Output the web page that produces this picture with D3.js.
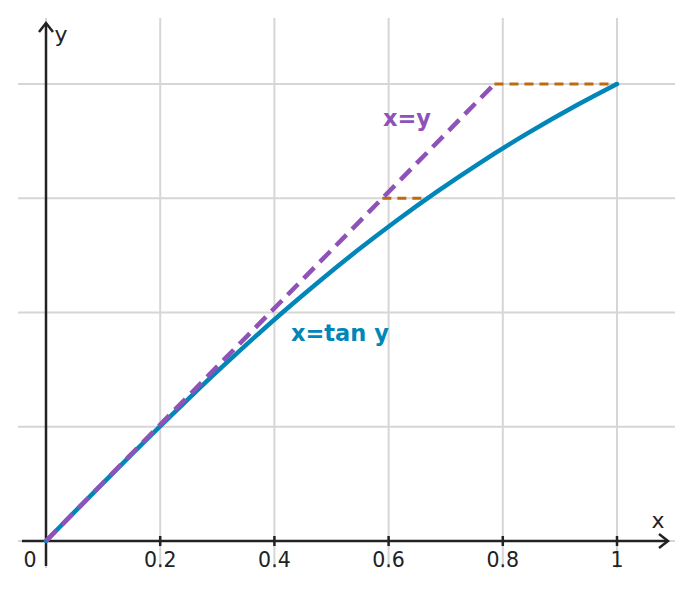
<!DOCTYPE html>
<html><head><meta charset="utf-8">
<script src="https://cdn.jsdelivr.net/npm/d3@7"></script>
<style>body{margin:0;background:#fff}svg{display:block}</style>
</head><body>
<script>
const xTicks = [0.2, 0.4, 0.6, 0.8, 1];
const xTickLabels = ["0.2", "0.4", "0.6", "0.8", "1"];
const yGrid = [0.19635, 0.392699, 0.589049, 0.785398];
// curve x = tan y (sampled values)
const curveY = [0, 0.05, 0.1, 0.15, 0.2, 0.25, 0.3, 0.35, 0.4, 0.45, 0.5, 0.55, 0.6, 0.65, 0.7, 0.75, 0.785398];
const curveX = [0, 0.05004, 0.10033, 0.15114, 0.20271, 0.25534, 0.30934, 0.36503, 0.42279, 0.48306, 0.54630, 0.61311, 0.68414, 0.76020, 0.84229, 0.93160, 1.0];
const diagX = [0, 0.785398];
const diagY = [0, 0.785398];
// horizontal connectors: [y, x1, x2]
const connY = [0.785398, 0.589049];
const connX1 = [0.785398, 0.589049];
const connX2 = [1.0, 0.66818];

const W = 692, H = 589;
const x = d3.scaleLinear().domain([0, 1]).range([46, 617]);
const y = d3.scaleLinear().domain([0, 0.785398]).range([541, 84]);

const svg = d3.select("body").append("svg").attr("width", W).attr("height", H);
const font = "DejaVu Sans, sans-serif";
const grid = "#d6d6d6";

// grid
svg.append("g").selectAll("line").data(xTicks).join("line")
  .attr("x1", d => x(d)).attr("x2", d => x(d)).attr("y1", 18).attr("y2", 568)
  .attr("stroke", grid).attr("stroke-width", 2);
svg.append("g").selectAll("line").data(yGrid).join("line")
  .attr("x1", 18).attr("x2", 675).attr("y1", d => y(d)).attr("y2", d => y(d))
  .attr("stroke", grid).attr("stroke-width", 2);
svg.append("line").attr("x1", x(0)).attr("x2", x(0)).attr("y1", 18).attr("y2", 568)
  .attr("stroke", grid).attr("stroke-width", 2);
svg.append("line").attr("x1", 18).attr("x2", 675).attr("y1", y(0)).attr("y2", y(0))
  .attr("stroke", grid).attr("stroke-width", 2);

// axes
const ax = "#222";
svg.append("line").attr("x1", 22).attr("x2", 667).attr("y1", y(0)).attr("y2", y(0))
  .attr("stroke", ax).attr("stroke-width", 2.5);
svg.append("path").attr("d", `M${659},${y(0)-7} L${668},${y(0)} L${659},${y(0)+7}`)
  .attr("fill", "none").attr("stroke", ax).attr("stroke-width", 2.5).attr("stroke-linejoin","miter");
svg.append("line").attr("x1", x(0)).attr("x2", x(0)).attr("y1", 566).attr("y2", 23)
  .attr("stroke", ax).attr("stroke-width", 2.5);
svg.append("path").attr("d", `M${x(0)-7},${32} L${x(0)},${23} L${x(0)+7},${32}`)
  .attr("fill", "none").attr("stroke", ax).attr("stroke-width", 2.5);

// ticks
svg.append("g").selectAll("line").data(xTicks).join("line")
  .attr("x1", d => x(d)).attr("x2", d => x(d)).attr("y1", y(0)-5).attr("y2", y(0)+5)
  .attr("stroke", ax).attr("stroke-width", 2.5);
svg.append("g").selectAll("text").data(xTicks).join("text")
  .attr("x", d => x(d)).attr("y", 567).attr("text-anchor", "middle")
  .attr("font-family", font).attr("font-size", 20.5).attr("fill", "#222")
  .text((d, i) => xTickLabels[i]);
svg.append("text").attr("x", 30).attr("y", 567).attr("text-anchor", "middle")
  .attr("font-family", font).attr("font-size", 20.5).attr("fill", "#222").text("0");

svg.append("text").attr("x", 658).attr("y", 528).attr("text-anchor", "middle")
  .attr("font-family", font).attr("font-size", 22).attr("fill", "#222").text("x");
svg.append("text").attr("x", 61).attr("y", 42).attr("text-anchor", "middle")
  .attr("font-family", font).attr("font-size", 22).attr("fill", "#222").text("y");

// connectors
const orange = "#bf6a0f";
svg.append("g").selectAll("line").data(connY).join("line")
  .attr("x1", (d, i) => x(connX1[i])).attr("x2", (d, i) => x(connX2[i]))
  .attr("y1", d => y(d)).attr("y2", d => y(d))
  .attr("stroke", orange).attr("stroke-width", 3).attr("stroke-dasharray", "9,6");

// curve
const blue = "#0086b9";
const pts = curveY.map((v, i) => [curveX[i], v]);
svg.append("path").datum(pts)
  .attr("d", d3.line().x(d => x(d[0])).y(d => y(d[1])).curve(d3.curveCatmullRom))
  .attr("fill", "none").attr("stroke", blue).attr("stroke-width", 4.5).attr("stroke-linecap", "round");

// diagonal
const purple = "#8f52b8";
const dpts = diagX.map((v, i) => [v, diagY[i]]);
svg.append("path").datum(dpts)
  .attr("d", d3.line().x(d => x(d[0])).y(d => y(d[1])))
  .attr("fill", "none").attr("stroke", purple).attr("stroke-width", 4.5).attr("stroke-dasharray", "15,8");

// labels
svg.append("text").attr("x", 383).attr("y", 126).attr("font-family", font).attr("font-weight", "bold")
  .attr("font-size", 22.5).attr("fill", purple).text("x=y");
svg.append("text").attr("x", 291).attr("y", 341).attr("font-family", font).attr("font-weight", "bold")
  .attr("font-size", 22.5).attr("fill", blue).text("x=tan y");
</script>
</body></html>
